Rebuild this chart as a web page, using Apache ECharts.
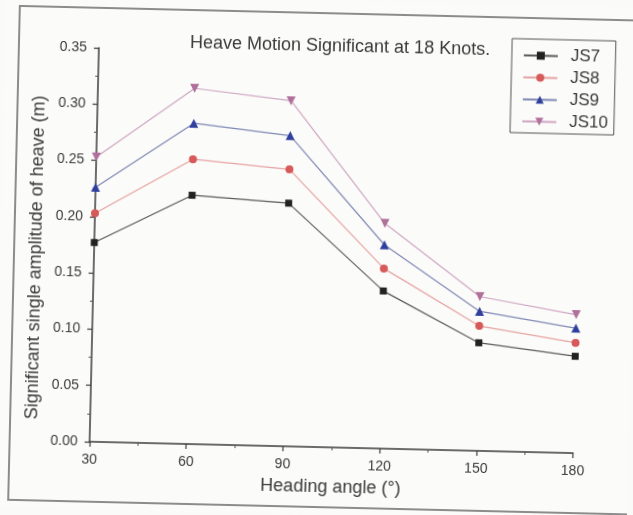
<!DOCTYPE html>
<html>
<head>
<meta charset="utf-8">
<script src="https://cdn.jsdelivr.net/npm/echarts@6/dist/echarts.min.js"></script>
<style>
  html, body { margin: 0; padding: 0; background: #fafaf8; overflow: hidden; }
  #chart {
    width: 633px; height: 515px;
    transform: rotate(1.35deg);
    transform-origin: 316.5px 257.5px;
  }
</style>
</head>
<body>
<div id="chart"></div>
<script>
// Heading angles (degrees)
const angles = [30, 60, 90, 120, 150, 180];

// Significant single amplitude of heave (m) for each hull
const js7  = [0.177, 0.221, 0.216, 0.140, 0.096, 0.086];
const js8  = [0.203, 0.253, 0.246, 0.160, 0.111, 0.098];
const js9  = [0.226, 0.285, 0.276, 0.181, 0.124, 0.111];
const js10 = [0.253, 0.316, 0.307, 0.200, 0.137, 0.123];

const seriesNames = ['JS7', 'JS8', 'JS9', 'JS10'];

const FONT = '"Liberation Sans", Arial, sans-serif';
const TEXT = '#3a3a3a';

const pairs = (vals) => angles.map((a, i) => [a, vals[i]]);

const styles = [
  { symbol: 'rect',     size: 7, rotate: 0,   marker: '#222222', line: '#5a5a5a' },
  { symbol: 'circle',   size: 8, rotate: 0,   marker: '#d65a5a', line: '#e6a3a3' },
  { symbol: 'triangle', size: 9, rotate: 0,   marker: '#2f3f9e', line: '#8088b4' },
  { symbol: 'triangle', size: 9, rotate: 180, marker: '#b0709c', line: '#cfa6c2' }
];

const values = [js7, js8, js9, js10];

const chart = echarts.init(document.getElementById('chart'), null, { renderer: 'canvas' });

chart.setOption({
  backgroundColor: '#fbfbf9',
  animation: false,
  textStyle: { fontFamily: FONT },
  title: {
    text: 'Heave Motion Significant at 18 Knots.',
    left: 185,
    top: 37,
    padding: 0,
    textStyle: { fontFamily: FONT, fontSize: 18, fontWeight: 'normal', color: TEXT }
  },
  legend: {
    orient: 'vertical',
    left: 507,
    top: 34,
    padding: [8, 6, 3, 11],
    itemGap: 5,
    itemWidth: 34,
    itemHeight: 10,
    borderColor: '#555555',
    borderWidth: 1,
    data: seriesNames,
    textStyle: { fontFamily: FONT, fontSize: 17, color: TEXT, padding: [0, 0, 0, 8] }
  },
  grid: { left: 94, right: 55.5, top: 53, bottom: 68 },
  xAxis: {
    type: 'value',
    min: 30, max: 180, interval: 30,
    axisLine: { lineStyle: { color: '#3c3c3c', width: 1.5 } },
    axisTick: { inside: false, length: 5, lineStyle: { color: '#3c3c3c', width: 1.2 } },
    minorTick: { show: true, splitNumber: 2, length: 3, lineStyle: { color: '#555', width: 1 } },
    splitLine: { show: false },
    axisLabel: { margin: 11, fontFamily: FONT, fontSize: 14, color: TEXT },
    name: 'Heading angle (°)',
    nameLocation: 'middle',
    nameGap: 31,
    nameTextStyle: { fontFamily: FONT, fontSize: 18, color: TEXT }
  },
  yAxis: {
    type: 'value',
    min: 0, max: 0.35, interval: 0.05,
    axisLine: { show: true, lineStyle: { color: '#3c3c3c', width: 1.5 } },
    axisTick: { show: true, inside: false, length: 5, lineStyle: { color: '#3c3c3c', width: 1.2 } },
    minorTick: { show: true, splitNumber: 2, length: 3, lineStyle: { color: '#555', width: 1 } },
    splitLine: { show: false },
    axisLabel: {
      margin: 12, fontFamily: FONT, fontSize: 14, color: TEXT,
      formatter: (v) => v.toFixed(2)
    }
  },
  graphic: [
    {
      type: 'rect',
      silent: true,
      z: -1,
      shape: { x: 14, y: 13, width: 660, height: 494 },
      style: { fill: 'none', stroke: '#8c8c8c', lineWidth: 2 }
    },
    {
      type: 'text',
      x: 36,
      y: 264,
      rotation: Math.PI / 2,
      style: {
        text: 'Significant single amplitude of heave (m)',
        font: '18px ' + FONT,
        fill: TEXT,
        align: 'center',
        verticalAlign: 'middle'
      }
    }
  ],
  series: seriesNames.map((name, k) => ({
    name,
    type: 'line',
    data: pairs(values[k]),
    symbol: styles[k].symbol,
    symbolSize: styles[k].size,
    symbolRotate: styles[k].rotate,
    itemStyle: { color: styles[k].marker },
    lineStyle: { color: styles[k].line, width: 1.2 },
    z: 2 + k
  }))
});
</script>
</body>
</html>
